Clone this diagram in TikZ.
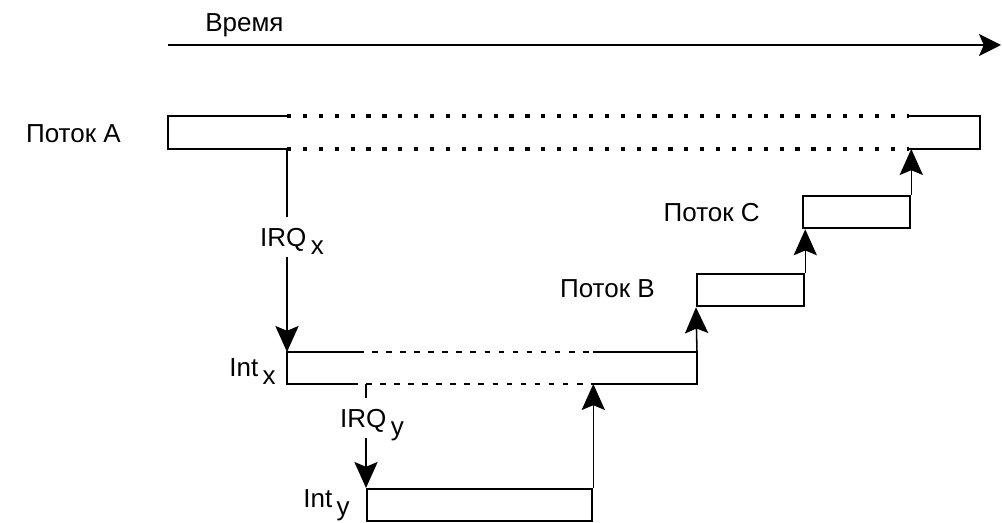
\documentclass[tikz,border=0pt]{standalone}
\usepackage{fontspec}
\setmainfont{Liberation Sans}
\usetikzlibrary{arrows.meta}
\newcommand{\lowsub}[1]{\,\raisebox{-5.5pt}{#1}}

\begin{document}
\begin{tikzpicture}[
  x=0.025cm, y=-0.025cm,
  font=\fontsize{18.5}{22}\selectfont,
  frame/.style={line width=1.6pt},
  dots/.style={line width=2.2pt, dash pattern=on 3pt off 8.3pt},
  dashes/.style={line width=1.4pt, dash pattern=on 4pt off 6pt},
  wire/.style={line width=1.1pt},
  arr/.style={wire, -{Stealth[length=6.5mm, width=5.8mm, inset=1.2mm]}},
  thread/.style={draw, line width=1.6pt, inner sep=0pt, minimum height=0.8cm, anchor=north west},
  lbl/.style={inner sep=0pt, anchor=base east},
  irq/.style={inner sep=0pt, anchor=base, text height=21pt, text depth=7pt}
]
\useasboundingbox (0,0) rectangle (1002,523);

% time axis
\coordinate (t0) at (168,45);
\coordinate (t1) at (1001,45);
\draw[wire, -{Stealth[length=5.5mm, width=5.5mm, inset=1.2mm]}] (t0) -- (t1);
\node[inner sep=0pt, anchor=base west] (time) at (205,32) {Время};

% thread A
\coordinate (aTL) at (168,116);
\coordinate (aBL) at (168,149);
\coordinate (aTR) at (980,116);
\coordinate (aBR) at (980,149);
\coordinate (aCut) at (287,116);
\coordinate (aIrq) at (287,149);
\coordinate (aTopRet) at (909,116);
\coordinate (aRet) at (909,149);
\draw[frame] (aCut) -- (aTL) -- (aBL) -- (aIrq);
\draw[frame] (aTopRet) -- (aTR) -- (aBR) -- (aRet);
\draw[dots] (aCut) -- (aTopRet);
\draw[dots] (aIrq) -- (aRet);
\node[lbl] (lblA) at (121,143) {Поток A};

% interrupt x
\coordinate (xTL) at (287,352);
\coordinate (xBL) at (287,384);
\coordinate (xTR) at (697,352);
\coordinate (xBR) at (697,384);
\coordinate (xCutT1) at (358,352);
\coordinate (xCutT2) at (593,352);
\coordinate (xCutB1) at (358,384);
\coordinate (xCutB2) at (593,384);
\coordinate (xIrq) at (366,384);
\draw[frame] (xCutT1) -- (xTL) -- (xBL) -- (xCutB1);
\draw[frame] (xCutT2) -- (xTR) -- (xBR) -- (xCutB2);
\draw[dashes] (xCutT1) -- (xCutT2);
\draw[dashes] (xIrq) -- (xCutB2);
\node[lbl] (lblx) at (276,377) {Int\lowsub{x}};

% interrupt y, threads B and C
\node[thread, minimum width=5.625cm] (inty) at (366,488) {};
\node[lbl] (lbly) at (350,508) {Int\lowsub{y}};
\node[thread, minimum width=2.675cm] (thrb) at (696,273) {};
\node[lbl] (lblB) at (655,298) {Поток B};
\node[thread, minimum width=2.675cm] (thrc) at (802,195) {};
\node[lbl] (lblC) at (760,222) {Поток C};

% requests
\node[irq] (irqx) at (292,247) {IRQ\lowsub{x}};
\node[irq] (irqy) at (372,428) {IRQ\lowsub{y}};
\draw[wire] (aIrq) -- (aIrq |- irqx.north);
\draw[arr] (aIrq |- irqx.south) -- (xTL);
\draw[wire] (xIrq) -- (xIrq |- irqy.north);
\draw[arr] (xIrq |- irqy.south) -- (inty.north west);

% returns
\draw[arr] (inty.north east) -- (inty.north east |- xBL);
\draw[arr] (xTR) -- (thrb.south west);
\draw[arr] (thrb.north east) -- (thrb.north east |- thrc.south);
\draw[arr] (thrc.north east) -- (thrc.north east |- aBL);
\end{tikzpicture}
\end{document}
